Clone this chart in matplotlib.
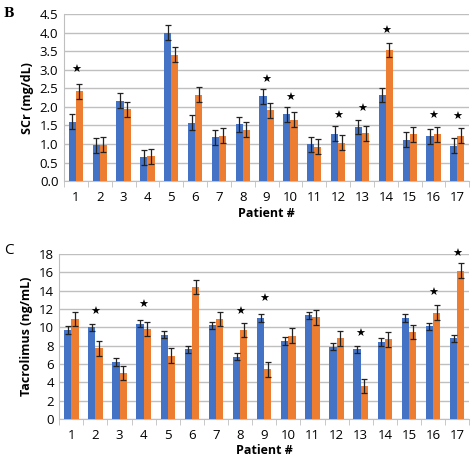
import numpy as np
import matplotlib.pyplot as plt

plt.rcParams['font.family'] = ['Open Sans', 'DejaVu Sans']

patients = [str(i) for i in range(1, 18)]

scr_blue = [1.6, 0.97, 2.17, 0.64, 4.0, 1.57, 1.18, 1.53, 2.28, 1.8, 0.99, 1.28, 1.46, 2.32, 1.12, 1.21, 0.96]
scr_orange = [2.42, 0.98, 1.93, 0.67, 3.4, 2.33, 1.22, 1.38, 1.91, 1.65, 0.93, 1.03, 1.29, 3.53, 1.26, 1.26, 1.22]
scr_err = 0.2
scr_stars = {1: 3.0, 9: 2.72, 10: 2.25, 12: 1.75, 13: 1.95, 14: 4.05, 16: 1.75, 17: 1.72}

tac_blue = [9.7, 10.0, 6.2, 10.4, 9.2, 7.6, 10.2, 6.8, 11.0, 8.5, 11.3, 7.9, 7.6, 8.4, 11.0, 10.1, 8.8]
tac_orange = [10.9, 7.7, 5.0, 9.8, 6.9, 14.4, 10.9, 9.7, 5.4, 9.1, 11.1, 8.8, 3.6, 8.7, 9.5, 11.6, 16.2]
tac_err_blue = 0.4
tac_err_orange = 0.8
tac_stars = {2: 11.7, 4: 12.4, 8: 11.7, 9: 13.1, 13: 9.3, 16: 13.8, 17: 18.0}

BLUE = "#4472C4"
ORANGE = "#ED7D31"
GRID = "#BFBFBF"


def panel(ax, blue, orange, eb, eo, stars, ymax, step, ylabel, fmt):
    x = np.arange(len(patients))
    w = 0.3
    ek = dict(ecolor="#222222", capsize=2.5, elinewidth=0.9, capthick=0.9)
    ax.bar(x - w / 2, blue, w, color=BLUE, yerr=eb, error_kw=ek, zorder=3)
    ax.bar(x + w / 2, orange, w, color=ORANGE, yerr=eo, error_kw=ek, zorder=3)
    for p, y in stars.items():
        ax.text(p - 1, y, "\u2605", ha="center", va="center", fontsize=8,
                family="DejaVu Sans", zorder=4)
    ax.set_xlim(-0.5, len(patients) - 0.5)
    ax.set_ylim(0, ymax)
    ax.set_yticks(np.arange(0, ymax + step / 2, step))
    ax.yaxis.set_major_formatter(plt.FormatStrFormatter(fmt))
    ax.set_xticks(x)
    ax.set_xticklabels(patients)
    ax.set_xticks(np.arange(-0.5, len(patients)), minor=True)
    ax.tick_params(axis="x", which="major", length=0, labelsize=9.5, pad=7)
    ax.tick_params(axis="x", which="minor", length=4, color=GRID)
    ax.tick_params(axis="y", length=0, labelsize=9.5, pad=4)
    ax.grid(axis="y", color=GRID, linewidth=1, zorder=0)
    for s in ["top", "right"]:
        ax.spines[s].set_visible(False)
    ax.spines["left"].set_color(GRID)
    ax.spines["bottom"].set_color(GRID)
    ax.set_xlabel("Patient #", fontsize=9, fontweight="bold", labelpad=2)
    ax.set_ylabel(ylabel, fontsize=9, fontweight="bold", labelpad=4)


fig = plt.figure(figsize=(4.74, 4.67), dpi=100)
ax1 = fig.add_axes([0.135, 0.612, 0.855, 0.358])
ax2 = fig.add_axes([0.125, 0.103, 0.865, 0.353])
panel(ax1, scr_blue, scr_orange, scr_err, scr_err, scr_stars, 4.5, 0.5, "SCr (mg/dL)", "%.1f")
panel(ax2, tac_blue, tac_orange, tac_err_blue, tac_err_orange, tac_stars, 18, 2, "Tacrolimus (ng/mL)", "%d")
fig.text(0.008, 0.985, "B", fontsize=9, fontweight="bold", family="DejaVu Serif", va="top")
fig.text(0.008, 0.48, "C", fontsize=11, va="top")
fig.savefig("out.png", dpi=100)
